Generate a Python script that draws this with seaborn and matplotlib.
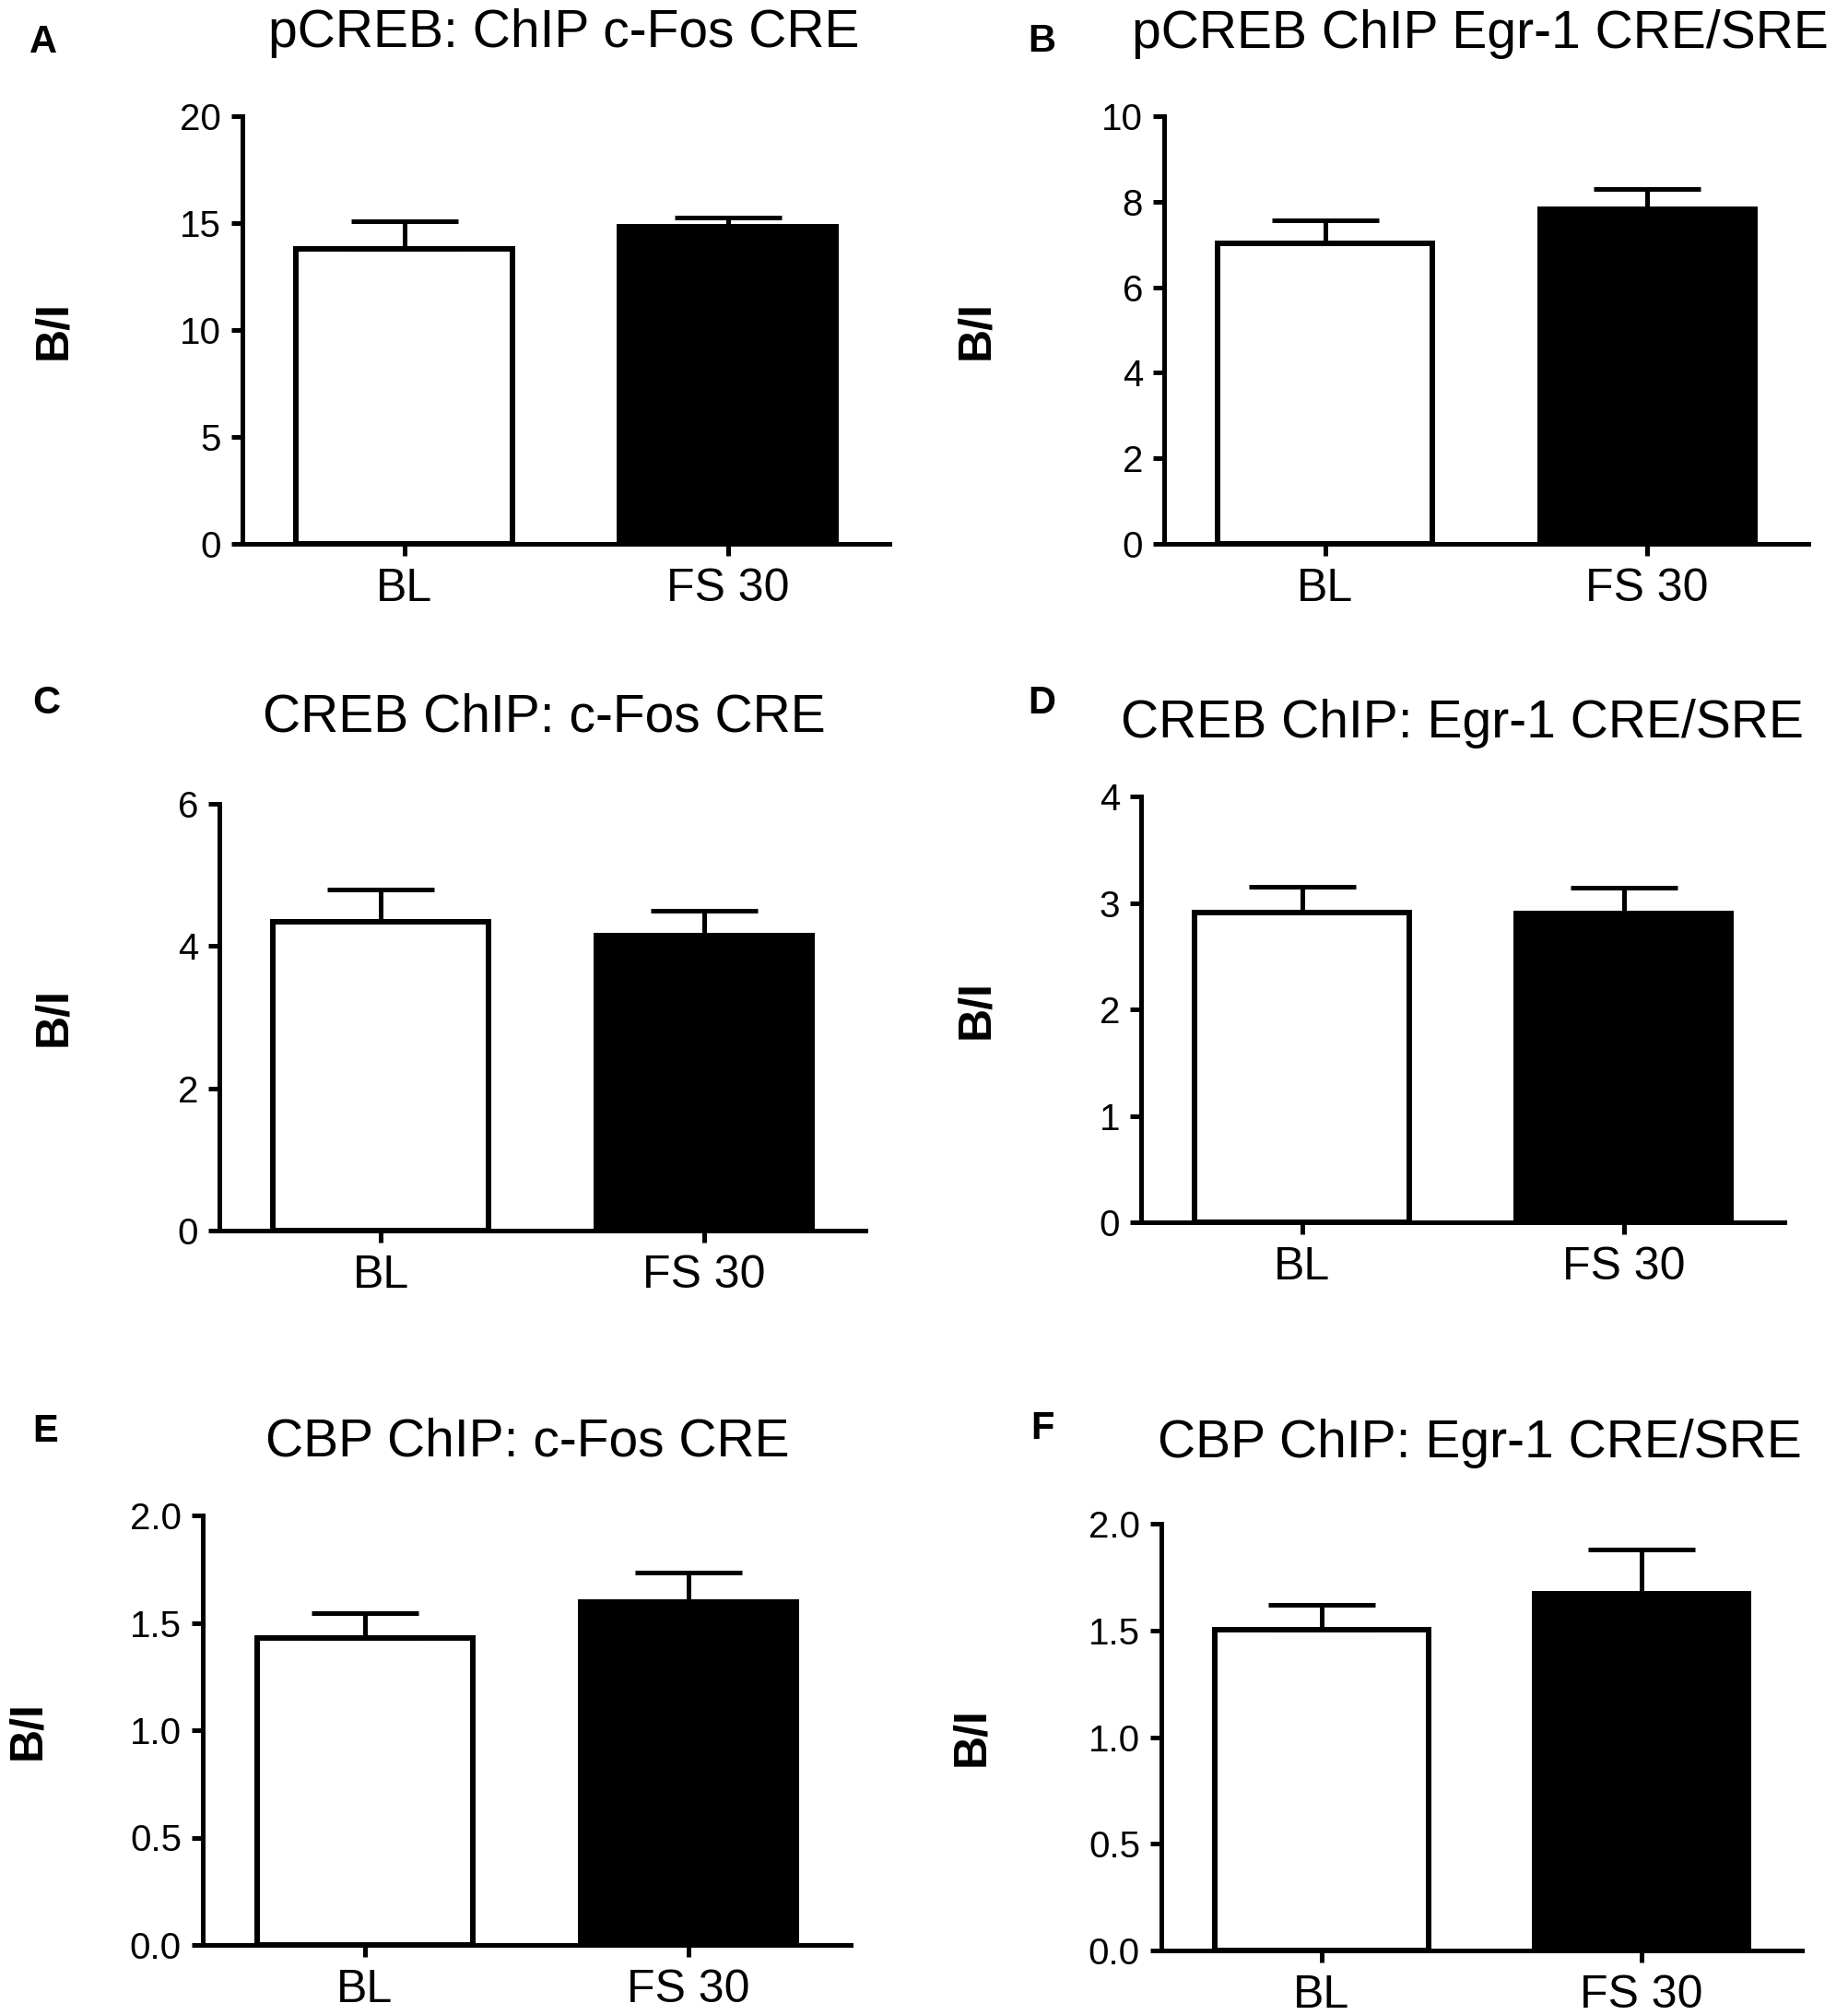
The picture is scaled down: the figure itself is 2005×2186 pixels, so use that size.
import numpy as np
import pandas as pd
import matplotlib
matplotlib.use("Agg")
import matplotlib.pyplot as plt
import seaborn as sns

# ---------------- data ----------------
categories = ["BL", "FS 30"]
bar_colors = ["white", "black"]
ylabel_text = "B/I"
panel_letters = ["A", "B", "C", "D", "E", "F"]
titles = [
    "pCREB: ChIP c-Fos CRE",
    "pCREB ChIP Egr-1 CRE/SRE",
    "CREB ChIP: c-Fos CRE",
    "CREB ChIP: Egr-1 CRE/SRE",
    "CBP ChIP: c-Fos CRE",
    "CBP ChIP: Egr-1 CRE/SRE",
]
means_A = [13.78, 14.83]
sem_A = [1.29, 0.45]
means_B = [7.02, 7.83]
sem_B = [0.55, 0.46]
means_C = [4.34, 4.15]
sem_C = [0.46, 0.35]
means_D = [2.91, 2.90]
sem_D = [0.24, 0.24]
means_E = [1.43, 1.595]
sem_E = [0.115, 0.138]
means_F = [1.504, 1.672]
sem_F = [0.116, 0.207]
yticks_A = [0, 5, 10, 15, 20]
yticks_B = [0, 2, 4, 6, 8, 10]
yticks_C = [0, 2, 4, 6]
yticks_D = [0, 1, 2, 3, 4]
yticks_E = [0.0, 0.5, 1.0, 1.5, 2.0]
yticks_F = [0.0, 0.5, 1.0, 1.5, 2.0]
tick_fmt = ["{:.0f}", "{:.0f}", "{:.0f}", "{:.0f}", "{:.1f}", "{:.1f}"]

all_means = [means_A, means_B, means_C, means_D, means_E, means_F]
all_sems = [sem_A, sem_B, sem_C, sem_D, sem_E, sem_F]
all_ticks = [yticks_A, yticks_B, yticks_C, yticks_D, yticks_E, yticks_F]

# ---------------- layout (pixels) ----------------
W, H = 2005, 2186
# left, right, top, bottom of each axes
axes_px = [
    (263, 965, 126, 590),
    (1263, 1962, 126, 590),
    (238, 939, 872, 1335),
    (1238, 1936, 864, 1326),
    (220, 923, 1644, 2110),
    (1260, 1955, 1653, 2116),
]
letter_px = [(32, 57), (1115, 56), (35, 774), (1115, 774), (35, 1564), (1118, 1561)]
title_px = [(612, 51), (1606, 52), (590, 794), (1587, 800), (572, 1579), (1605, 1581)]
ylabel_x_px = [58, 1059, 58, 1059, 30, 1054]

sns.set_style("ticks")
plt.rcParams["font.family"] = ["Liberation Sans", "DejaVu Sans"]
plt.rcParams["text.color"] = "black"
plt.rcParams["axes.labelcolor"] = "black"
plt.rcParams["xtick.color"] = "black"
plt.rcParams["ytick.color"] = "black"
plt.rcParams["axes.edgecolor"] = "black"

LW = 3.6
fig = plt.figure(figsize=(W / 100, H / 100), dpi=100)

for i in range(6):
    l, r, t, b = axes_px[i]
    ax = fig.add_axes([l / W, 1 - b / H, (r - l) / W, (b - t) / H])
    df = pd.DataFrame({"group": categories, "value": all_means[i]})
    sns.barplot(data=df, x="group", y="value", hue="group",
                palette=bar_colors, edgecolor="black", linewidth=4.3,
                width=0.667, errorbar=None, legend=False, ax=ax, zorder=2)
    xs = np.arange(len(categories))
    ax.errorbar(xs, all_means[i], yerr=[np.zeros(len(xs)), all_sems[i]],
                fmt="none", ecolor="black", elinewidth=LW, capsize=42,
                capthick=LW, zorder=3)
    ax.set_xlim(-0.5, 1.5)
    ticks = all_ticks[i]
    ax.set_ylim(ticks[0], ticks[-1])
    ax.set_yticks(ticks)
    ax.set_yticklabels([tick_fmt[i].format(v) for v in ticks])
    ax.set_xticks(xs)
    ax.set_xticklabels(categories)
    ax.set_xlabel("")
    for side in ["top", "right"]:
        ax.spines[side].set_visible(False)
    for side in ["left", "bottom"]:
        ax.spines[side].set_linewidth(LW)
        ax.spines[side].set_color("black")
    ax.tick_params(axis="y", length=8.6, width=LW, pad=8, labelsize=29,
                   colors="black", labelcolor="black")
    ax.tick_params(axis="x", length=9, width=LW, pad=10, labelsize=36,
                   colors="black", labelcolor="black")
    ax.set_ylabel(ylabel_text, fontsize=36, fontweight="bold", va="center",
                  color="black")
    ax.yaxis.set_label_coords((ylabel_x_px[i] - l) / (r - l), 0.5)
    lx, ly = letter_px[i]
    fig.text(lx / W, 1 - ly / H, panel_letters[i], fontsize=30,
             fontweight="bold", ha="left", va="baseline", color="black")
    tx, ty = title_px[i]
    fig.text(tx / W, 1 - ty / H, titles[i], fontsize=41, ha="center",
             va="baseline", color="black")

fig.savefig("out.png", dpi=100)
